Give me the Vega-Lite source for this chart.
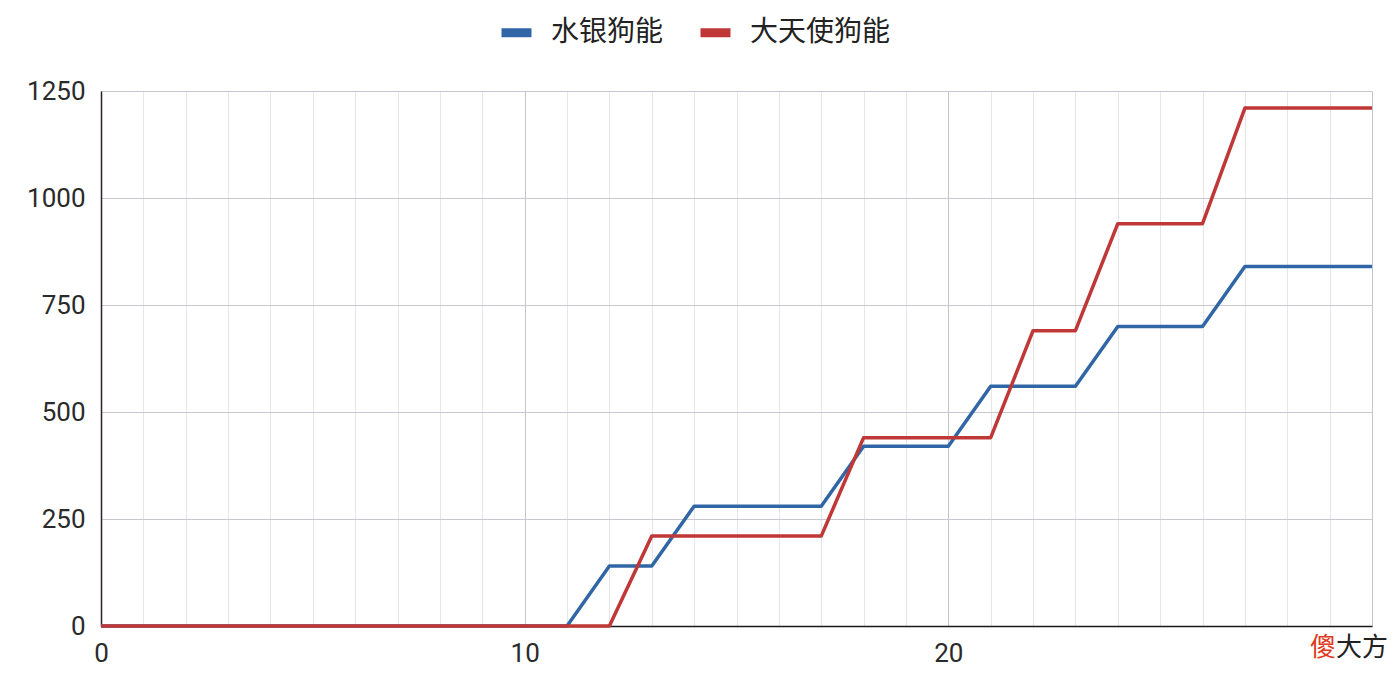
{
  "$schema": "https://vega.github.io/schema/vega-lite/v6.json",
  "autosize": "none",
  "padding": {"left": 101, "top": 91, "right": 26, "bottom": 56},
  "width": 1271,
  "height": 535,
  "background": "#ffffff",
  "config": {
    "view": {"stroke": null},
    "font": "Roboto",
    "axis": {
      "labelFont": "Roboto",
      "labelFontSize": 26,
      "labelColor": "#2a2a2a",
      "ticks": false,
      "title": null
    }
  },
  "datasets": {
    "series": [
      {"level": 0, "name": "水银狗能", "value": 0},
      {"level": 1, "name": "水银狗能", "value": 0},
      {"level": 2, "name": "水银狗能", "value": 0},
      {"level": 3, "name": "水银狗能", "value": 0},
      {"level": 4, "name": "水银狗能", "value": 0},
      {"level": 5, "name": "水银狗能", "value": 0},
      {"level": 6, "name": "水银狗能", "value": 0},
      {"level": 7, "name": "水银狗能", "value": 0},
      {"level": 8, "name": "水银狗能", "value": 0},
      {"level": 9, "name": "水银狗能", "value": 0},
      {"level": 10, "name": "水银狗能", "value": 0},
      {"level": 11, "name": "水银狗能", "value": 0},
      {"level": 12, "name": "水银狗能", "value": 140},
      {"level": 13, "name": "水银狗能", "value": 140},
      {"level": 14, "name": "水银狗能", "value": 280},
      {"level": 15, "name": "水银狗能", "value": 280},
      {"level": 16, "name": "水银狗能", "value": 280},
      {"level": 17, "name": "水银狗能", "value": 280},
      {"level": 18, "name": "水银狗能", "value": 420},
      {"level": 19, "name": "水银狗能", "value": 420},
      {"level": 20, "name": "水银狗能", "value": 420},
      {"level": 21, "name": "水银狗能", "value": 560},
      {"level": 22, "name": "水银狗能", "value": 560},
      {"level": 23, "name": "水银狗能", "value": 560},
      {"level": 24, "name": "水银狗能", "value": 700},
      {"level": 25, "name": "水银狗能", "value": 700},
      {"level": 26, "name": "水银狗能", "value": 700},
      {"level": 27, "name": "水银狗能", "value": 840},
      {"level": 28, "name": "水银狗能", "value": 840},
      {"level": 29, "name": "水银狗能", "value": 840},
      {"level": 30, "name": "水银狗能", "value": 840},
      {"level": 0, "name": "大天使狗能", "value": 0},
      {"level": 1, "name": "大天使狗能", "value": 0},
      {"level": 2, "name": "大天使狗能", "value": 0},
      {"level": 3, "name": "大天使狗能", "value": 0},
      {"level": 4, "name": "大天使狗能", "value": 0},
      {"level": 5, "name": "大天使狗能", "value": 0},
      {"level": 6, "name": "大天使狗能", "value": 0},
      {"level": 7, "name": "大天使狗能", "value": 0},
      {"level": 8, "name": "大天使狗能", "value": 0},
      {"level": 9, "name": "大天使狗能", "value": 0},
      {"level": 10, "name": "大天使狗能", "value": 0},
      {"level": 11, "name": "大天使狗能", "value": 0},
      {"level": 12, "name": "大天使狗能", "value": 0},
      {"level": 13, "name": "大天使狗能", "value": 210},
      {"level": 14, "name": "大天使狗能", "value": 210},
      {"level": 15, "name": "大天使狗能", "value": 210},
      {"level": 16, "name": "大天使狗能", "value": 210},
      {"level": 17, "name": "大天使狗能", "value": 210},
      {"level": 18, "name": "大天使狗能", "value": 440},
      {"level": 19, "name": "大天使狗能", "value": 440},
      {"level": 20, "name": "大天使狗能", "value": 440},
      {"level": 21, "name": "大天使狗能", "value": 440},
      {"level": 22, "name": "大天使狗能", "value": 690},
      {"level": 23, "name": "大天使狗能", "value": 690},
      {"level": 24, "name": "大天使狗能", "value": 940},
      {"level": 25, "name": "大天使狗能", "value": 940},
      {"level": 26, "name": "大天使狗能", "value": 940},
      {"level": 27, "name": "大天使狗能", "value": 1210},
      {"level": 28, "name": "大天使狗能", "value": 1210},
      {"level": 29, "name": "大天使狗能", "value": 1210},
      {"level": 30, "name": "大天使狗能", "value": 1210}
    ],
    "stamp": [
      {"level": 30, "value": 0, "first": "傻", "rest": "大方"}
    ]
  },
  "layer": [
    {
      "data": {"name": "series"},
      "mark": {"type": "line", "strokeWidth": 3.5, "strokeJoin": "round"},
      "encoding": {
        "x": {
          "field": "level",
          "type": "quantitative",
          "scale": {"domain": [0, 30], "nice": false, "zero": false},
          "axis": {
            "values": [0, 1, 2, 3, 4, 5, 6, 7, 8, 9, 10, 11, 12, 13, 14, 15, 16, 17, 18, 19, 20, 21, 22, 23, 24, 25, 26, 27, 28, 29, 30],
            "labelExpr": "datum.value % 10 === 0 && datum.value < 30 ? datum.label : ''",
            "labelPadding": 14,
            "labelFlush": false,
            "labelOverlap": false,
            "grid": true,
            "gridColor": {"condition": {"test": "datum.value % 10 === 0", "value": "#c4c4cc"}, "value": "#e6e6ea"},
            "gridWidth": 1,
            "domainColor": "#1a1a1a",
            "domainWidth": 1.5
          }
        },
        "y": {
          "field": "value",
          "type": "quantitative",
          "scale": {"domain": [0, 1250], "nice": false},
          "axis": {
            "values": [0, 250, 500, 750, 1000, 1250],
            "format": "d",
            "labelPadding": 16,
            "grid": true,
            "gridColor": "#c8c8d0",
            "domainColor": "#2e1e28",
            "domainWidth": 1.5
          }
        },
        "color": {
          "field": "name",
          "type": "nominal",
          "sort": ["水银狗能", "大天使狗能"],
          "scale": {"domain": ["水银狗能", "大天使狗能"], "range": ["#3166a6", "#bf3736"]},
          "legend": {
            "title": null,
            "orient": "none",
            "direction": "horizontal",
            "legendX": 396,
            "legendY": -78,
            "labelFont": "Noto Sans CJK SC",
            "labelFontSize": 28,
            "labelColor": "#222222",
            "symbolType": "stroke",
            "symbolSize": 900,
            "symbolStrokeWidth": 9,
            "labelOffset": 15,
            "columnPadding": 18
          }
        }
      }
    },
    {
      "data": {"name": "stamp"},
      "mark": {"type": "text", "fontSize": 26, "font": "Noto Sans CJK SC", "baseline": "middle", "align": "center", "dy": 22, "dx": -49, "color": "#e03a1e"},
      "encoding": {
        "x": {"field": "level", "type": "quantitative"},
        "y": {"field": "value", "type": "quantitative"},
        "text": {"field": "first", "type": "nominal"}
      }
    },
    {
      "data": {"name": "stamp"},
      "mark": {"type": "text", "fontSize": 26, "font": "Noto Sans CJK SC", "baseline": "middle", "align": "left", "dy": 22, "dx": -36, "color": "#222222"},
      "encoding": {
        "x": {"field": "level", "type": "quantitative"},
        "y": {"field": "value", "type": "quantitative"},
        "text": {"field": "rest", "type": "nominal"}
      }
    }
  ]
}
